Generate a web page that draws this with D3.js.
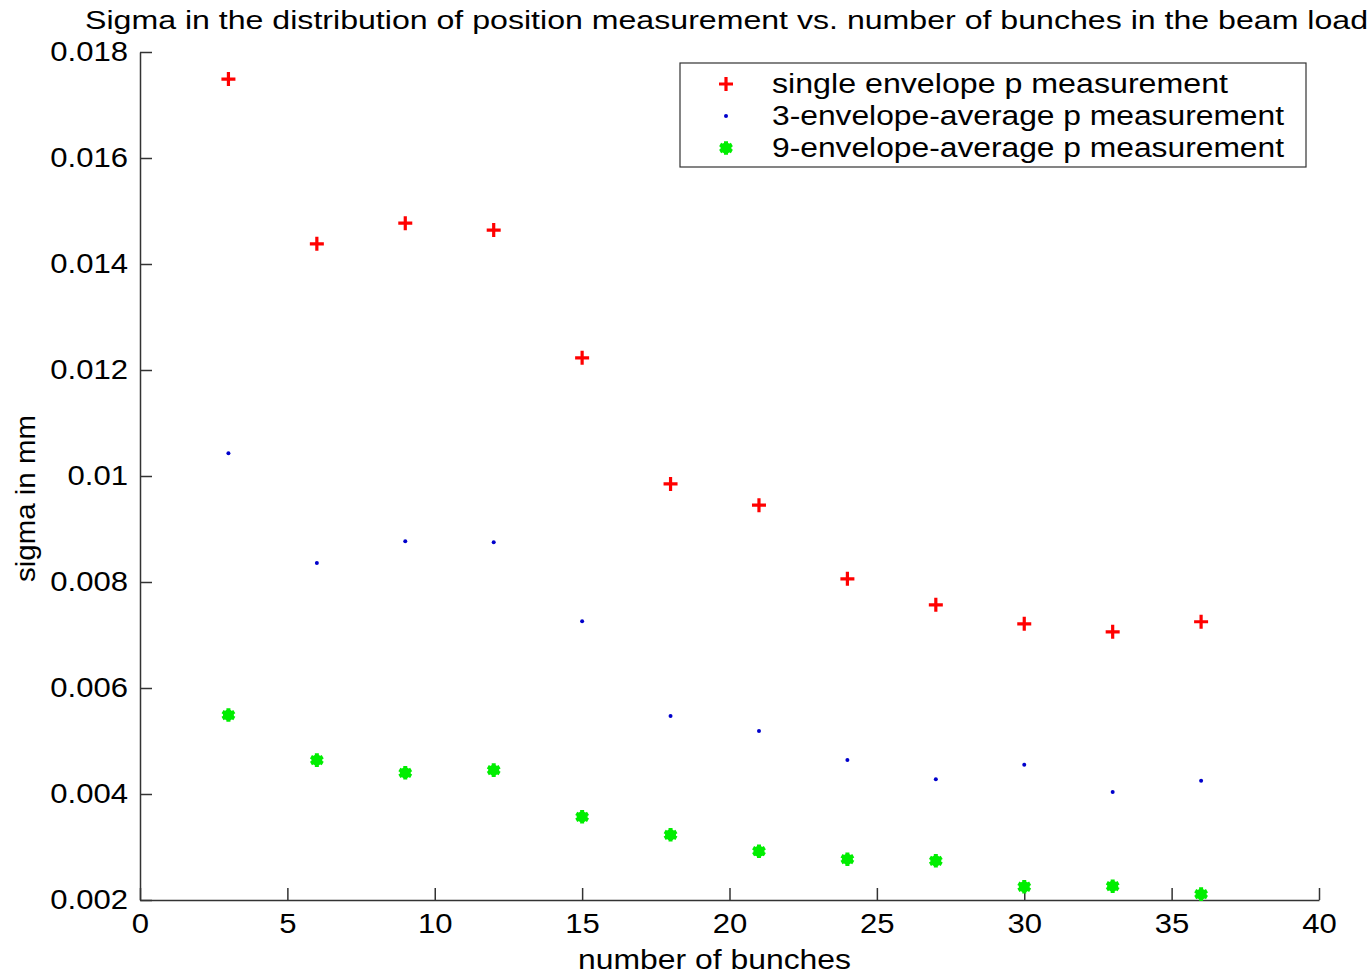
<!DOCTYPE html>
<html>
<head>
<meta charset="utf-8">
<script src="https://cdn.jsdelivr.net/npm/d3@7"></script>
<style>
  body { margin: 0; background: #fff; }
  text { font-family: "Liberation Sans", Arial, sans-serif; fill: #000; }
</style>
</head>
<body>
<div id="chart"></div>
<script>
const bunches = [3, 6, 9, 12, 15, 18, 21, 24, 27, 30, 33, 36]
const singleEnv = [0.01749, 0.01438, 0.01477, 0.01464, 0.01223, 0.00985, 0.00945, 0.00806, 0.00757, 0.00721, 0.00706, 0.00725]
const avg3Env = [0.01043, 0.00836, 0.00877, 0.00875, 0.00726, 0.00547, 0.00519, 0.00464, 0.00428, 0.00455, 0.00404, 0.00425]
const avg9Env = [0.00549, 0.00464, 0.00440, 0.00445, 0.00357, 0.00323, 0.00292, 0.00277, 0.00274, 0.00225, 0.00226, 0.00211]
const xTicks = [0, 5, 10, 15, 20, 25, 30, 35, 40]
const yTicks = [0.002, 0.004, 0.006, 0.008, 0.01, 0.012, 0.014, 0.016, 0.018]
const seriesNames = ["single envelope p measurement", "3-envelope-average p measurement", "9-envelope-average p measurement"]

const W = 1372, H = 976
const margin = {top: 52, right: 53, bottom: 76, left: 140},
    width = W - margin.left - margin.right,
    height = H - margin.top - margin.bottom;

// the original picture has its glyphs a bit wider than Arial
const stretch = 1.11

const root = d3.select("#chart").append("svg")
    .attr("width", W).attr("height", H)

const svg = root.append("g")
    .attr("transform", `translate(${margin.left}, ${margin.top})`)

const x = d3.scaleLinear().domain([0, 40]).range([0, width])
const y = d3.scaleLinear().domain([0.002, 0.018]).range([height, 0])

// axes, ticks pointing inward like matlab
const xAxis = svg.append("g")
    .attr("transform", "translate(0," + height + ")")
    .call(d3.axisBottom(x).tickValues(xTicks).tickSize(-12).tickSizeOuter(0))
xAxis.selectAll("text")
    .style("font-size", "28px")
    .attr("y", 33).attr("dy", 0)
    .attr("transform", `scale(${stretch},1)`)

const yAxis = svg.append("g")
    .call(d3.axisLeft(y).tickValues(yTicks).tickSize(-12).tickSizeOuter(0).tickPadding(12)
        .tickFormat(d => d3.format("")(+d.toFixed(3))))
yAxis.selectAll("text")
    .style("font-size", "28px")
    .attr("x", -12 / stretch)
    .attr("transform", `scale(${stretch},1)`)

svg.selectAll(".domain, .tick line").attr("stroke", "#333").attr("stroke-width", 1.5)

// title and axis labels
root.append("text")
    .attr("x", 85).attr("y", 29)
    .attr("textLength", 1283).attr("lengthAdjust", "spacingAndGlyphs")
    .style("font-size", "25px")
    .text("Sigma in the distribution of position measurement vs. number of bunches in the beam load")

root.append("text")
    .attr("x", 578).attr("y", 969)
    .attr("textLength", 273).attr("lengthAdjust", "spacingAndGlyphs")
    .style("font-size", "27px")
    .text("number of bunches")

root.append("text")
    .attr("transform", "translate(35,582) rotate(-90)")
    .attr("textLength", 167).attr("lengthAdjust", "spacingAndGlyphs")
    .style("font-size", "28px")
    .text("sigma in mm")

// marker drawers
function drawPlus(g) {
  g.append("path").attr("d", "M-7,0H7M0,-7V7")
    .attr("stroke", "#ff0000").attr("stroke-width", 3.2).attr("fill", "none")
}
function drawDot(g) {
  g.append("circle").attr("r", 2).attr("fill", "#0000cc")
}
function drawStar(g) {
  g.append("circle").attr("r", 5.5).attr("fill", "#00ee00")
  g.append("path").attr("d", d3.symbol().type(d3.symbolAsterisk).size(130)())
    .attr("stroke", "#00ee00").attr("stroke-width", 4).attr("fill", "none")
}
const drawers = [drawPlus, drawDot, drawStar]
const allSeries = [singleEnv, avg3Env, avg9Env]

allSeries.forEach(function(vals, i) {
  svg.append("g").selectAll("g")
    .data(bunches.map((b, j) => ({x: b, y: vals[j]})))
    .enter().append("g")
      .attr("transform", d => `translate(${x(d.x)},${y(d.y)})`)
      .each(function() { drawers[i](d3.select(this)) })
})

// legend
const legendWidths = [456, 512, 512]
const legend = root.append("g").attr("transform", "translate(680,63)")
legend.append("rect")
    .attr("width", 626).attr("height", 104)
    .attr("fill", "#fff").attr("stroke", "#333").attr("stroke-width", 1.2)
seriesNames.forEach(function(name, i) {
  const row = legend.append("g").attr("transform", `translate(0,${21 + i * 32})`)
  drawers[i](row.append("g").attr("transform", "translate(46,0)"))
  row.append("text").attr("x", 92).attr("y", 9)
      .attr("textLength", legendWidths[i]).attr("lengthAdjust", "spacingAndGlyphs")
      .style("font-size", "27px")
      .text(name)
})
</script>
</body>
</html>
